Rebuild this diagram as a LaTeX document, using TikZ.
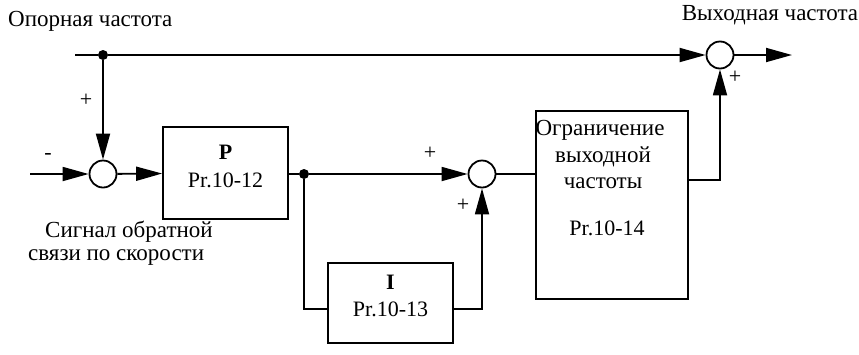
\documentclass[tikz,border=0pt]{standalone}
\usepackage{fontspec}
\setmainfont{Liberation Serif}
\usetikzlibrary{arrows.meta}
\begin{document}
\begin{tikzpicture}[x=1pt,y=-1pt,
  every node/.style={font=\fontsize{22}{26}\selectfont, inner sep=0pt},
  cyr/.style={font=\fontsize{23}{27}\selectfont},
  wire/.style={line width=1.8pt},
  arr/.style={wire, -{Triangle[length=26pt,width=14pt]}},
  sumc/.style={draw, circle, line width=1.8pt, minimum size=27pt, inner sep=0pt},
  blk/.style={draw, rectangle, line width=1.8pt, inner sep=0pt},
  dotc/.style={circle, fill=black, minimum size=10pt, inner sep=0pt}]
\useasboundingbox (0,0) rectangle (859,354);
% nodes
\coordinate (refin) at (75,55);
\node[dotc] (dot1) at (103,55) {};
\node[sumc] (s3) at (720,55) {};
\coordinate (out) at (792,55);
\coordinate (fbin) at (30,174);
\node[sumc] (s1) at (103,174) {};
\node[blk, minimum width=125pt, minimum height=92pt] (P) at (225.5,173) {};
\node at (225.5,152) (Plab) {\textbf{P}};
\node at (225.5,180) (Ppr) {Pr.10-12};
\node[dotc] (dot2) at (304,174) {};
\node[sumc] (s2) at (482,174) {};
\node[blk, minimum width=125pt, minimum height=80pt] (I) at (390.5,303) {};
\node at (390.5,282) (Ilab) {\textbf{I}};
\node at (390.5,309) (Ipr) {Pr.10-13};
\coordinate (c1) at (304,309);
\coordinate (c2) at (482,309);
\node[blk, minimum width=152pt, minimum height=188pt] (lim) at (612,205) {};
\node[cyr] at (600,130) (l1) {Ограничение};
\node[cyr] at (603,157) (l2) {выходной};
\node[cyr] at (603,183) (l3) {частоты};
\node at (607,228) (l4) {Pr.10-14};
\coordinate (c3) at (720,180);
% labels
\node[cyr, anchor=west] (t1) at (8,21) {Опорная частота};
\node[cyr] (t2) at (770,15) {Выходная частота};
\node[cyr, anchor=west] (t3) at (45,232) {Сигнал обратной};
\node[cyr, anchor=west] (t4) at (28,258) {связи по скорости};
\node (p1) at (86,100) {+};
\node (m1) at (48,156) {-};
\node (p2) at (430,153) {+};
\node (p3) at (463,205) {+};
\node (p4) at (735,77) {+};
% wires
\draw[wire] (refin) -- (dot1);
\draw[arr] (dot1) -- (s3);
\draw[arr] (s3) -- (out);
\draw[arr] (dot1) -- (s1);
\draw[arr] (fbin) -- (s1);
\draw[arr] (s1) -- (P);
\draw[wire] (P.east |- dot2) -- (dot2);
\draw[arr] (dot2) -- (s2);
\draw[wire] (dot2) -- (c1) -- (I.west |- c1);
\draw[arr] (I.east |- c2) -- (c2) -- (s2);
\draw[wire] (s2) -- (lim.west |- s2);
\draw[arr] (lim.east |- c3) -- (c3) -- (s3);
\end{tikzpicture}
\end{document}
